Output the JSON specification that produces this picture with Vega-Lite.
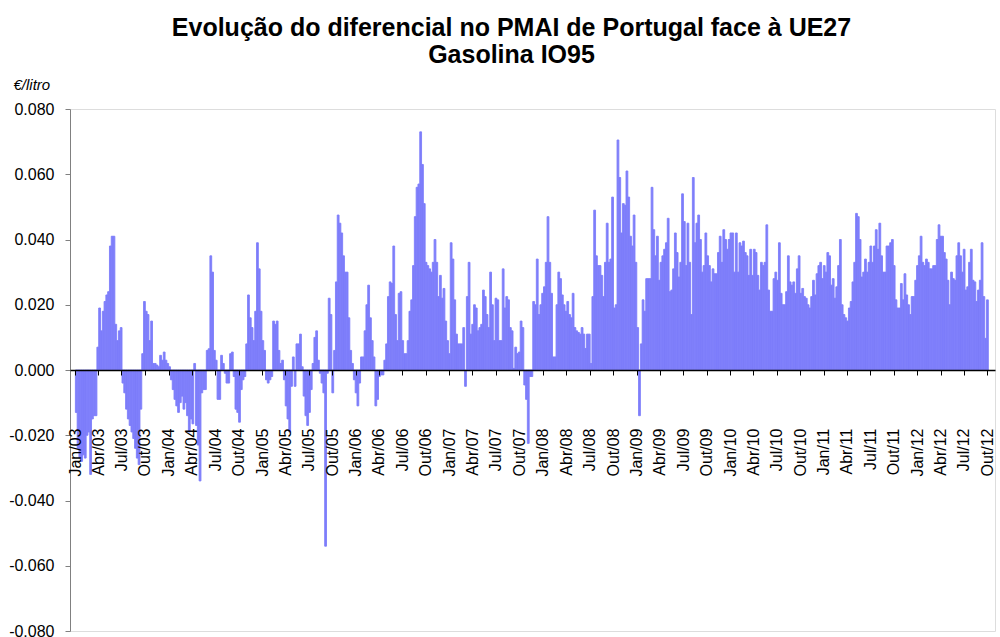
{
"$schema": "https://vega.github.io/schema/vega-lite/v6.json",
"width": 925,
"height": 522,
"autosize": "none",
"padding": {"left": 70, "top": 109, "right": 5, "bottom": 6},
"background": "white",
"title": {"text": ["Evolução do diferencial no PMAI  de Portugal face à UE27", "Gasolina IO95"], "font": "Liberation Sans", "fontSize": 25, "fontWeight": "bold", "color": "#000000", "anchor": "middle", "lineHeight": 27, "dx": -21, "dy": -5},
"data": {"values": [
{"d":"2003-01-06","v":-0.013},{"d":"2003-01-13","v":-0.024},{"d":"2003-01-20","v":-0.027},{"d":"2003-01-27","v":-0.028},
{"d":"2003-02-03","v":-0.026},{"d":"2003-02-10","v":-0.027},{"d":"2003-02-17","v":-0.020},{"d":"2003-02-24","v":-0.019},
{"d":"2003-03-03","v":-0.032},{"d":"2003-03-10","v":-0.015},{"d":"2003-03-17","v":-0.014},{"d":"2003-03-24","v":-0.014},{"d":"2003-03-31","v":0.007},
{"d":"2003-04-07","v":0.019},{"d":"2003-04-14","v":0.012},{"d":"2003-04-21","v":0.018},{"d":"2003-04-28","v":0.021},
{"d":"2003-05-05","v":0.023},{"d":"2003-05-12","v":0.024},{"d":"2003-05-19","v":0.038},{"d":"2003-05-26","v":0.041},
{"d":"2003-06-02","v":0.041},{"d":"2003-06-09","v":0.014},{"d":"2003-06-16","v":0.009},{"d":"2003-06-23","v":0.012},{"d":"2003-06-30","v":0.013},
{"d":"2003-07-07","v":-0.004},{"d":"2003-07-14","v":-0.007},{"d":"2003-07-21","v":-0.012},{"d":"2003-07-28","v":-0.015},
{"d":"2003-08-04","v":-0.017},{"d":"2003-08-11","v":-0.019},{"d":"2003-08-18","v":-0.021},{"d":"2003-08-25","v":-0.024},
{"d":"2003-09-01","v":-0.027},{"d":"2003-09-08","v":-0.029},{"d":"2003-09-15","v":-0.012},{"d":"2003-09-22","v":0.005},{"d":"2003-09-29","v":0.021},
{"d":"2003-10-06","v":0.018},{"d":"2003-10-13","v":0.017},{"d":"2003-10-20","v":0.009},{"d":"2003-10-27","v":0.015},
{"d":"2003-11-03","v":0.002},{"d":"2003-11-10","v":0.002},{"d":"2003-11-17","v":0.0015},{"d":"2003-11-24","v":0.001},
{"d":"2003-12-01","v":0.0045},{"d":"2003-12-08","v":0.003},{"d":"2003-12-15","v":0.0055},{"d":"2003-12-22","v":0.003},{"d":"2003-12-29","v":0.002},
{"d":"2004-01-05","v":0.001},{"d":"2004-01-12","v":-0.003},{"d":"2004-01-19","v":-0.006},{"d":"2004-01-26","v":-0.009},
{"d":"2004-02-02","v":-0.011},{"d":"2004-02-09","v":-0.013},{"d":"2004-02-16","v":-0.010},{"d":"2004-02-23","v":-0.008},
{"d":"2004-03-01","v":-0.012},{"d":"2004-03-08","v":-0.010},{"d":"2004-03-15","v":-0.014},{"d":"2004-03-22","v":-0.019},{"d":"2004-03-29","v":-0.015},
{"d":"2004-04-05","v":-0.0165},{"d":"2004-04-12","v":0.002},{"d":"2004-04-19","v":-0.017},{"d":"2004-04-26","v":-0.023},
{"d":"2004-05-03","v":-0.034},{"d":"2004-05-10","v":-0.007},{"d":"2004-05-17","v":-0.006},{"d":"2004-05-24","v":-0.006},{"d":"2004-05-31","v":0.006},
{"d":"2004-06-07","v":0.0065},{"d":"2004-06-14","v":0.035},{"d":"2004-06-21","v":0.030},{"d":"2004-06-28","v":0.006},
{"d":"2004-07-05","v":0.003},{"d":"2004-07-12","v":-0.009},{"d":"2004-07-19","v":-0.009},{"d":"2004-07-26","v":0.0045},
{"d":"2004-08-02","v":0.002},{"d":"2004-08-09","v":-0.001},{"d":"2004-08-16","v":-0.004},{"d":"2004-08-23","v":-0.004},{"d":"2004-08-30","v":0.005},
{"d":"2004-09-06","v":0.0055},{"d":"2004-09-13","v":-0.002},{"d":"2004-09-20","v":-0.012},{"d":"2004-09-27","v":-0.013},
{"d":"2004-10-04","v":-0.016},{"d":"2004-10-11","v":-0.006},{"d":"2004-10-18","v":-0.003},{"d":"2004-10-25","v":-0.002},
{"d":"2004-11-01","v":0.008},{"d":"2004-11-08","v":0.023},{"d":"2004-11-15","v":0.016},{"d":"2004-11-22","v":0.013},{"d":"2004-11-29","v":0.009},
{"d":"2004-12-06","v":0.018},{"d":"2004-12-13","v":0.039},{"d":"2004-12-20","v":0.031},{"d":"2004-12-27","v":0.018},
{"d":"2005-01-03","v":0.009},{"d":"2005-01-10","v":0.006},{"d":"2005-01-17","v":-0.003},{"d":"2005-01-24","v":-0.004},{"d":"2005-01-31","v":-0.003},
{"d":"2005-02-07","v":-0.002},{"d":"2005-02-14","v":0.015},{"d":"2005-02-21","v":0.014},{"d":"2005-02-28","v":0.015},
{"d":"2005-03-07","v":0.006},{"d":"2005-03-14","v":0.002},{"d":"2005-03-21","v":0.003},{"d":"2005-03-28","v":-0.003},
{"d":"2005-04-04","v":-0.011},{"d":"2005-04-11","v":-0.015},{"d":"2005-04-18","v":-0.019},{"d":"2005-04-25","v":-0.005},
{"d":"2005-05-02","v":0.004},{"d":"2005-05-09","v":-0.005},{"d":"2005-05-16","v":0.008},{"d":"2005-05-23","v":0.008},{"d":"2005-05-30","v":0.011},
{"d":"2005-06-06","v":0.001},{"d":"2005-06-13","v":-0.008},{"d":"2005-06-20","v":-0.014},{"d":"2005-06-27","v":-0.017},
{"d":"2005-07-04","v":-0.013},{"d":"2005-07-11","v":-0.006},{"d":"2005-07-18","v":0.002},{"d":"2005-07-25","v":0.010},
{"d":"2005-08-01","v":0.012},{"d":"2005-08-08","v":0.003},{"d":"2005-08-15","v":-0.001},{"d":"2005-08-22","v":-0.004},{"d":"2005-08-29","v":-0.007},
{"d":"2005-09-05","v":-0.054},{"d":"2005-09-12","v":-0.001},{"d":"2005-09-19","v":0.022},{"d":"2005-09-26","v":0.017},
{"d":"2005-10-03","v":-0.007},{"d":"2005-10-10","v":0.006},{"d":"2005-10-17","v":0.027},{"d":"2005-10-24","v":0.0475},{"d":"2005-10-31","v":0.045},
{"d":"2005-11-07","v":0.042},{"d":"2005-11-14","v":0.035},{"d":"2005-11-21","v":0.030},{"d":"2005-11-28","v":0.030},
{"d":"2005-12-05","v":0.016},{"d":"2005-12-12","v":0.006},{"d":"2005-12-19","v":0.002},{"d":"2005-12-26","v":-0.003},
{"d":"2006-01-02","v":-0.007},{"d":"2006-01-09","v":-0.011},{"d":"2006-01-16","v":-0.004},{"d":"2006-01-23","v":0.004},{"d":"2006-01-30","v":0.004},
{"d":"2006-02-06","v":0.012},{"d":"2006-02-13","v":0.020},{"d":"2006-02-20","v":0.026},{"d":"2006-02-27","v":0.016},
{"d":"2006-03-06","v":0.009},{"d":"2006-03-13","v":0.004},{"d":"2006-03-20","v":-0.011},{"d":"2006-03-27","v":-0.009},
{"d":"2006-04-03","v":-0.002},{"d":"2006-04-10","v":-0.0015},{"d":"2006-04-17","v":-0.0015},{"d":"2006-04-24","v":0.003},
{"d":"2006-05-01","v":0.008},{"d":"2006-05-08","v":0.0225},{"d":"2006-05-15","v":0.027},{"d":"2006-05-22","v":0.0265},{"d":"2006-05-29","v":0.038},
{"d":"2006-06-05","v":0.017},{"d":"2006-06-12","v":0.009},{"d":"2006-06-19","v":0.0235},{"d":"2006-06-26","v":0.024},
{"d":"2006-07-03","v":0.009},{"d":"2006-07-10","v":0.005},{"d":"2006-07-17","v":0.005},{"d":"2006-07-24","v":0.009},{"d":"2006-07-31","v":0.018},
{"d":"2006-08-07","v":0.0215},{"d":"2006-08-14","v":0.032},{"d":"2006-08-21","v":0.047},{"d":"2006-08-28","v":0.056},
{"d":"2006-09-04","v":0.057},{"d":"2006-09-11","v":0.073},{"d":"2006-09-18","v":0.063},{"d":"2006-09-25","v":0.051},
{"d":"2006-10-02","v":0.033},{"d":"2006-10-09","v":0.032},{"d":"2006-10-16","v":0.031},{"d":"2006-10-23","v":0.030},{"d":"2006-10-30","v":0.033},
{"d":"2006-11-06","v":0.040},{"d":"2006-11-13","v":0.033},{"d":"2006-11-20","v":0.0225},{"d":"2006-11-27","v":0.029},
{"d":"2006-12-04","v":0.022},{"d":"2006-12-11","v":0.025},{"d":"2006-12-18","v":0.015},{"d":"2006-12-25","v":0.009},
{"d":"2007-01-01","v":0.005},{"d":"2007-01-08","v":0.039},{"d":"2007-01-15","v":0.034},{"d":"2007-01-22","v":0.0215},{"d":"2007-01-29","v":0.011},
{"d":"2007-02-05","v":0.008},{"d":"2007-02-12","v":0.008},{"d":"2007-02-19","v":0.008},{"d":"2007-02-26","v":0.013},
{"d":"2007-03-05","v":-0.005},{"d":"2007-03-12","v":0.0225},{"d":"2007-03-19","v":0.033},{"d":"2007-03-26","v":0.011},
{"d":"2007-04-02","v":0.014},{"d":"2007-04-09","v":0.020},{"d":"2007-04-16","v":0.019},{"d":"2007-04-23","v":0.012},{"d":"2007-04-30","v":0.013},
{"d":"2007-05-07","v":0.014},{"d":"2007-05-14","v":0.0245},{"d":"2007-05-21","v":0.0225},{"d":"2007-05-28","v":0.017},
{"d":"2007-06-04","v":0.013},{"d":"2007-06-11","v":0.030},{"d":"2007-06-18","v":0.020},{"d":"2007-06-25","v":0.009},
{"d":"2007-07-02","v":0.022},{"d":"2007-07-09","v":0.0215},{"d":"2007-07-16","v":0.009},{"d":"2007-07-23","v":0.009},{"d":"2007-07-30","v":0.031},
{"d":"2007-08-06","v":0.019},{"d":"2007-08-13","v":0.0225},{"d":"2007-08-20","v":0.0215},{"d":"2007-08-27","v":0.013},
{"d":"2007-09-03","v":0.012},{"d":"2007-09-10","v":0.0005},{"d":"2007-09-17","v":0.007},{"d":"2007-09-24","v":0.005},
{"d":"2007-10-01","v":0.0055},{"d":"2007-10-08","v":0.015},{"d":"2007-10-15","v":0.013},{"d":"2007-10-22","v":-0.0046},{"d":"2007-10-29","v":-0.009},
{"d":"2007-11-05","v":-0.0225},{"d":"2007-11-12","v":-0.002},{"d":"2007-11-19","v":-0.002},{"d":"2007-11-26","v":0.021},
{"d":"2007-12-03","v":0.020},{"d":"2007-12-10","v":0.034},{"d":"2007-12-17","v":0.017},{"d":"2007-12-24","v":0.020},{"d":"2007-12-31","v":0.0235},
{"d":"2008-01-07","v":0.0255},{"d":"2008-01-14","v":0.033},{"d":"2008-01-21","v":0.047},{"d":"2008-01-28","v":0.033},
{"d":"2008-02-04","v":0.0235},{"d":"2008-02-11","v":0.004},{"d":"2008-02-18","v":0.004},{"d":"2008-02-25","v":0.020},
{"d":"2008-03-03","v":0.030},{"d":"2008-03-10","v":0.028},{"d":"2008-03-17","v":0.023},{"d":"2008-03-24","v":0.020},{"d":"2008-03-31","v":0.018},
{"d":"2008-04-07","v":0.021},{"d":"2008-04-14","v":0.017},{"d":"2008-04-21","v":0.016},{"d":"2008-04-28","v":0.0235},
{"d":"2008-05-05","v":0.013},{"d":"2008-05-12","v":0.012},{"d":"2008-05-19","v":0.0115},{"d":"2008-05-26","v":0.011},
{"d":"2008-06-02","v":0.013},{"d":"2008-06-09","v":0.011},{"d":"2008-06-16","v":0.0066},{"d":"2008-06-23","v":0.011},{"d":"2008-06-30","v":0.011},
{"d":"2008-07-07","v":0.002},{"d":"2008-07-14","v":0.0225},{"d":"2008-07-21","v":0.049},{"d":"2008-07-28","v":0.035},
{"d":"2008-08-04","v":0.032},{"d":"2008-08-11","v":0.032},{"d":"2008-08-18","v":0.029},{"d":"2008-08-25","v":0.0225},
{"d":"2008-09-01","v":0.033},{"d":"2008-09-08","v":0.045},{"d":"2008-09-15","v":0.033},{"d":"2008-09-22","v":0.034},{"d":"2008-09-29","v":0.053},
{"d":"2008-10-06","v":0.019},{"d":"2008-10-13","v":0.020},{"d":"2008-10-20","v":0.0705},{"d":"2008-10-27","v":0.059},
{"d":"2008-11-03","v":0.042},{"d":"2008-11-10","v":0.051},{"d":"2008-11-17","v":0.0505},{"d":"2008-11-24","v":0.061},
{"d":"2008-12-01","v":0.053},{"d":"2008-12-08","v":0.041},{"d":"2008-12-15","v":0.038},{"d":"2008-12-22","v":0.0475},{"d":"2008-12-29","v":0.033},
{"d":"2009-01-05","v":0.013},{"d":"2009-01-12","v":-0.014},{"d":"2009-01-19","v":0.008},{"d":"2009-01-26","v":0.0215},
{"d":"2009-02-02","v":0.018},{"d":"2009-02-09","v":0.028},{"d":"2009-02-16","v":0.028},{"d":"2009-02-23","v":0.028},
{"d":"2009-03-02","v":0.056},{"d":"2009-03-09","v":0.043},{"d":"2009-03-16","v":0.035},{"d":"2009-03-23","v":0.041},{"d":"2009-03-30","v":0.0275},
{"d":"2009-04-06","v":0.033},{"d":"2009-04-13","v":0.035},{"d":"2009-04-20","v":0.037},{"d":"2009-04-27","v":0.039},
{"d":"2009-05-04","v":0.0465},{"d":"2009-05-11","v":0.024},{"d":"2009-05-18","v":0.0245},{"d":"2009-05-25","v":0.031},
{"d":"2009-06-01","v":0.042},{"d":"2009-06-08","v":0.036},{"d":"2009-06-15","v":0.0285},{"d":"2009-06-22","v":0.033},{"d":"2009-06-29","v":0.054},
{"d":"2009-07-06","v":0.0455},{"d":"2009-07-13","v":0.032},{"d":"2009-07-20","v":0.045},{"d":"2009-07-27","v":0.033},
{"d":"2009-08-03","v":0.017},{"d":"2009-08-10","v":0.059},{"d":"2009-08-17","v":0.039},{"d":"2009-08-24","v":0.045},{"d":"2009-08-31","v":0.0475},
{"d":"2009-09-07","v":0.040},{"d":"2009-09-14","v":0.030},{"d":"2009-09-21","v":0.032},{"d":"2009-09-28","v":0.042},
{"d":"2009-10-05","v":0.035},{"d":"2009-10-12","v":0.032},{"d":"2009-10-19","v":0.027},{"d":"2009-10-26","v":0.031},
{"d":"2009-11-02","v":0.0295},{"d":"2009-11-09","v":0.0295},{"d":"2009-11-16","v":0.036},{"d":"2009-11-23","v":0.041},{"d":"2009-11-30","v":0.033},
{"d":"2009-12-07","v":0.043},{"d":"2009-12-14","v":0.040},{"d":"2009-12-21","v":0.037},{"d":"2009-12-28","v":0.040},
{"d":"2010-01-04","v":0.042},{"d":"2010-01-11","v":0.042},{"d":"2010-01-18","v":0.030},{"d":"2010-01-25","v":0.042},
{"d":"2010-02-01","v":0.030},{"d":"2010-02-08","v":0.039},{"d":"2010-02-15","v":0.038},{"d":"2010-02-22","v":0.0395},
{"d":"2010-03-01","v":0.036},{"d":"2010-03-08","v":0.035},{"d":"2010-03-15","v":0.029},{"d":"2010-03-22","v":0.037},{"d":"2010-03-29","v":0.029},
{"d":"2010-04-05","v":0.037},{"d":"2010-04-12","v":0.036},{"d":"2010-04-19","v":0.029},{"d":"2010-04-26","v":0.0245},
{"d":"2010-05-03","v":0.033},{"d":"2010-05-10","v":0.032},{"d":"2010-05-17","v":0.033},{"d":"2010-05-24","v":0.0445},{"d":"2010-05-31","v":0.0245},
{"d":"2010-06-07","v":0.018},{"d":"2010-06-14","v":0.018},{"d":"2010-06-21","v":0.028},{"d":"2010-06-28","v":0.030},
{"d":"2010-07-05","v":0.0275},{"d":"2010-07-12","v":0.039},{"d":"2010-07-19","v":0.0235},{"d":"2010-07-26","v":0.020},
{"d":"2010-08-02","v":0.020},{"d":"2010-08-09","v":0.024},{"d":"2010-08-16","v":0.035},{"d":"2010-08-23","v":0.027},{"d":"2010-08-30","v":0.026},
{"d":"2010-09-06","v":0.027},{"d":"2010-09-13","v":0.0235},{"d":"2010-09-20","v":0.031},{"d":"2010-09-27","v":0.035},
{"d":"2010-10-04","v":0.0235},{"d":"2010-10-11","v":0.025},{"d":"2010-10-18","v":0.0225},{"d":"2010-10-25","v":0.022},
{"d":"2010-11-01","v":0.020},{"d":"2010-11-08","v":0.019},{"d":"2010-11-15","v":0.0225},{"d":"2010-11-22","v":0.0275},{"d":"2010-11-29","v":0.023},
{"d":"2010-12-06","v":0.0295},{"d":"2010-12-13","v":0.032},{"d":"2010-12-20","v":0.033},{"d":"2010-12-27","v":0.028},
{"d":"2011-01-03","v":0.032},{"d":"2011-01-10","v":0.030},{"d":"2011-01-17","v":0.036},{"d":"2011-01-24","v":0.035},{"d":"2011-01-31","v":0.026},
{"d":"2011-02-07","v":0.028},{"d":"2011-02-14","v":0.022},{"d":"2011-02-21","v":0.0255},{"d":"2011-02-28","v":0.032},
{"d":"2011-03-07","v":0.040},{"d":"2011-03-14","v":0.020},{"d":"2011-03-21","v":0.017},{"d":"2011-03-28","v":0.016},
{"d":"2011-04-04","v":0.015},{"d":"2011-04-11","v":0.019},{"d":"2011-04-18","v":0.021},{"d":"2011-04-25","v":0.027},
{"d":"2011-05-02","v":0.033},{"d":"2011-05-09","v":0.048},{"d":"2011-05-16","v":0.047},{"d":"2011-05-23","v":0.040},{"d":"2011-05-30","v":0.0285},
{"d":"2011-06-06","v":0.030},{"d":"2011-06-13","v":0.034},{"d":"2011-06-20","v":0.030},{"d":"2011-06-27","v":0.033},
{"d":"2011-07-04","v":0.038},{"d":"2011-07-11","v":0.033},{"d":"2011-07-18","v":0.038},{"d":"2011-07-25","v":0.043},
{"d":"2011-08-01","v":0.037},{"d":"2011-08-08","v":0.045},{"d":"2011-08-15","v":0.035},{"d":"2011-08-22","v":0.030},{"d":"2011-08-29","v":0.030},
{"d":"2011-09-05","v":0.038},{"d":"2011-09-12","v":0.038},{"d":"2011-09-19","v":0.039},{"d":"2011-09-26","v":0.040},
{"d":"2011-10-03","v":0.032},{"d":"2011-10-10","v":0.0215},{"d":"2011-10-17","v":0.019},{"d":"2011-10-24","v":0.019},{"d":"2011-10-31","v":0.0265},
{"d":"2011-11-07","v":0.0215},{"d":"2011-11-14","v":0.0295},{"d":"2011-11-21","v":0.023},{"d":"2011-11-28","v":0.020},
{"d":"2011-12-05","v":0.017},{"d":"2011-12-12","v":0.0225},{"d":"2011-12-19","v":0.0225},{"d":"2011-12-26","v":0.0275},
{"d":"2012-01-02","v":0.032},{"d":"2012-01-09","v":0.035},{"d":"2012-01-16","v":0.041},{"d":"2012-01-23","v":0.033},{"d":"2012-01-30","v":0.032},
{"d":"2012-02-06","v":0.034},{"d":"2012-02-13","v":0.033},{"d":"2012-02-20","v":0.031},{"d":"2012-02-27","v":0.031},
{"d":"2012-03-05","v":0.032},{"d":"2012-03-12","v":0.032},{"d":"2012-03-19","v":0.040},{"d":"2012-03-26","v":0.0445},
{"d":"2012-04-02","v":0.041},{"d":"2012-04-09","v":0.041},{"d":"2012-04-16","v":0.036},{"d":"2012-04-23","v":0.034},{"d":"2012-04-30","v":0.0275},
{"d":"2012-05-07","v":0.020},{"d":"2012-05-14","v":0.030},{"d":"2012-05-21","v":0.028},{"d":"2012-05-28","v":0.0275},
{"d":"2012-06-04","v":0.035},{"d":"2012-06-11","v":0.039},{"d":"2012-06-18","v":0.035},{"d":"2012-06-25","v":0.030},
{"d":"2012-07-02","v":0.037},{"d":"2012-07-09","v":0.0245},{"d":"2012-07-16","v":0.0255},{"d":"2012-07-23","v":0.033},{"d":"2012-07-30","v":0.037},
{"d":"2012-08-06","v":0.0275},{"d":"2012-08-13","v":0.027},{"d":"2012-08-20","v":0.021},{"d":"2012-08-27","v":0.0245},
{"d":"2012-09-03","v":0.0275},{"d":"2012-09-10","v":0.039},{"d":"2012-09-17","v":0.0225},{"d":"2012-09-24","v":0.0097},
{"d":"2012-10-01","v":0.0215}
]},
"mark": {"type": "bar", "width": 1.8, "color": "#7E7EFA", "stroke": "#7E7EFA", "strokeWidth": 0.9},
"encoding": {
"x": {"field": "d", "type": "temporal",
"scale": {"type": "utc", "domain": [{"year": 2003, "month": 1, "date": 1, "utc": true}, {"year": 2012, "month": 10, "date": 11, "utc": true}]},
"axis": {"title": null, "offset": -261, "tickCount": {"interval": "month", "step": 3},
"labelExpr": "['Jan','Fev','Mar','Abr','Mai','Jun','Jul','Ago','Set','Out','Nov','Dez'][utcmonth(datum.value)] + '/' + utcFormat(datum.value, '%y')",
"labelAngle": -90, "labelPadding": 53, "labelFlush": false, "labelOverlap": false, "labelBound": false,
"labelFont": "Liberation Sans", "labelFontSize": 16, "labelColor": "#000000",
"domainColor": "#000000", "domainWidth": 1.5, "tickColor": "#000000", "tickSize": 5, "grid": false, "zindex": 1}},
"y": {"field": "v", "type": "quantitative",
"scale": {"domain": [-0.08, 0.08], "nice": false, "zero": false},
"axis": {"title": "€/litro", "titleAngle": 0, "titleX": -57, "titleY": -20, "titleAlign": "left", "titleBaseline": "alphabetic",
"titleFont": "Liberation Sans", "titleFontStyle": "italic", "titleFontWeight": "normal", "titleFontSize": 15, "titleColor": "#000000",
"values": [-0.08, -0.06, -0.04, -0.02, 0, 0.02, 0.04, 0.06, 0.08],
"labelExpr": "(datum.value < 0 ? '-' : '') + format(abs(datum.value), '.3f')",
"labelFont": "Liberation Sans", "labelFontSize": 16, "labelColor": "#000000", "labelPadding": 11,
"tickSize": 5, "tickColor": "#808080", "domainColor": "#808080", "grid": false}}
}
}
